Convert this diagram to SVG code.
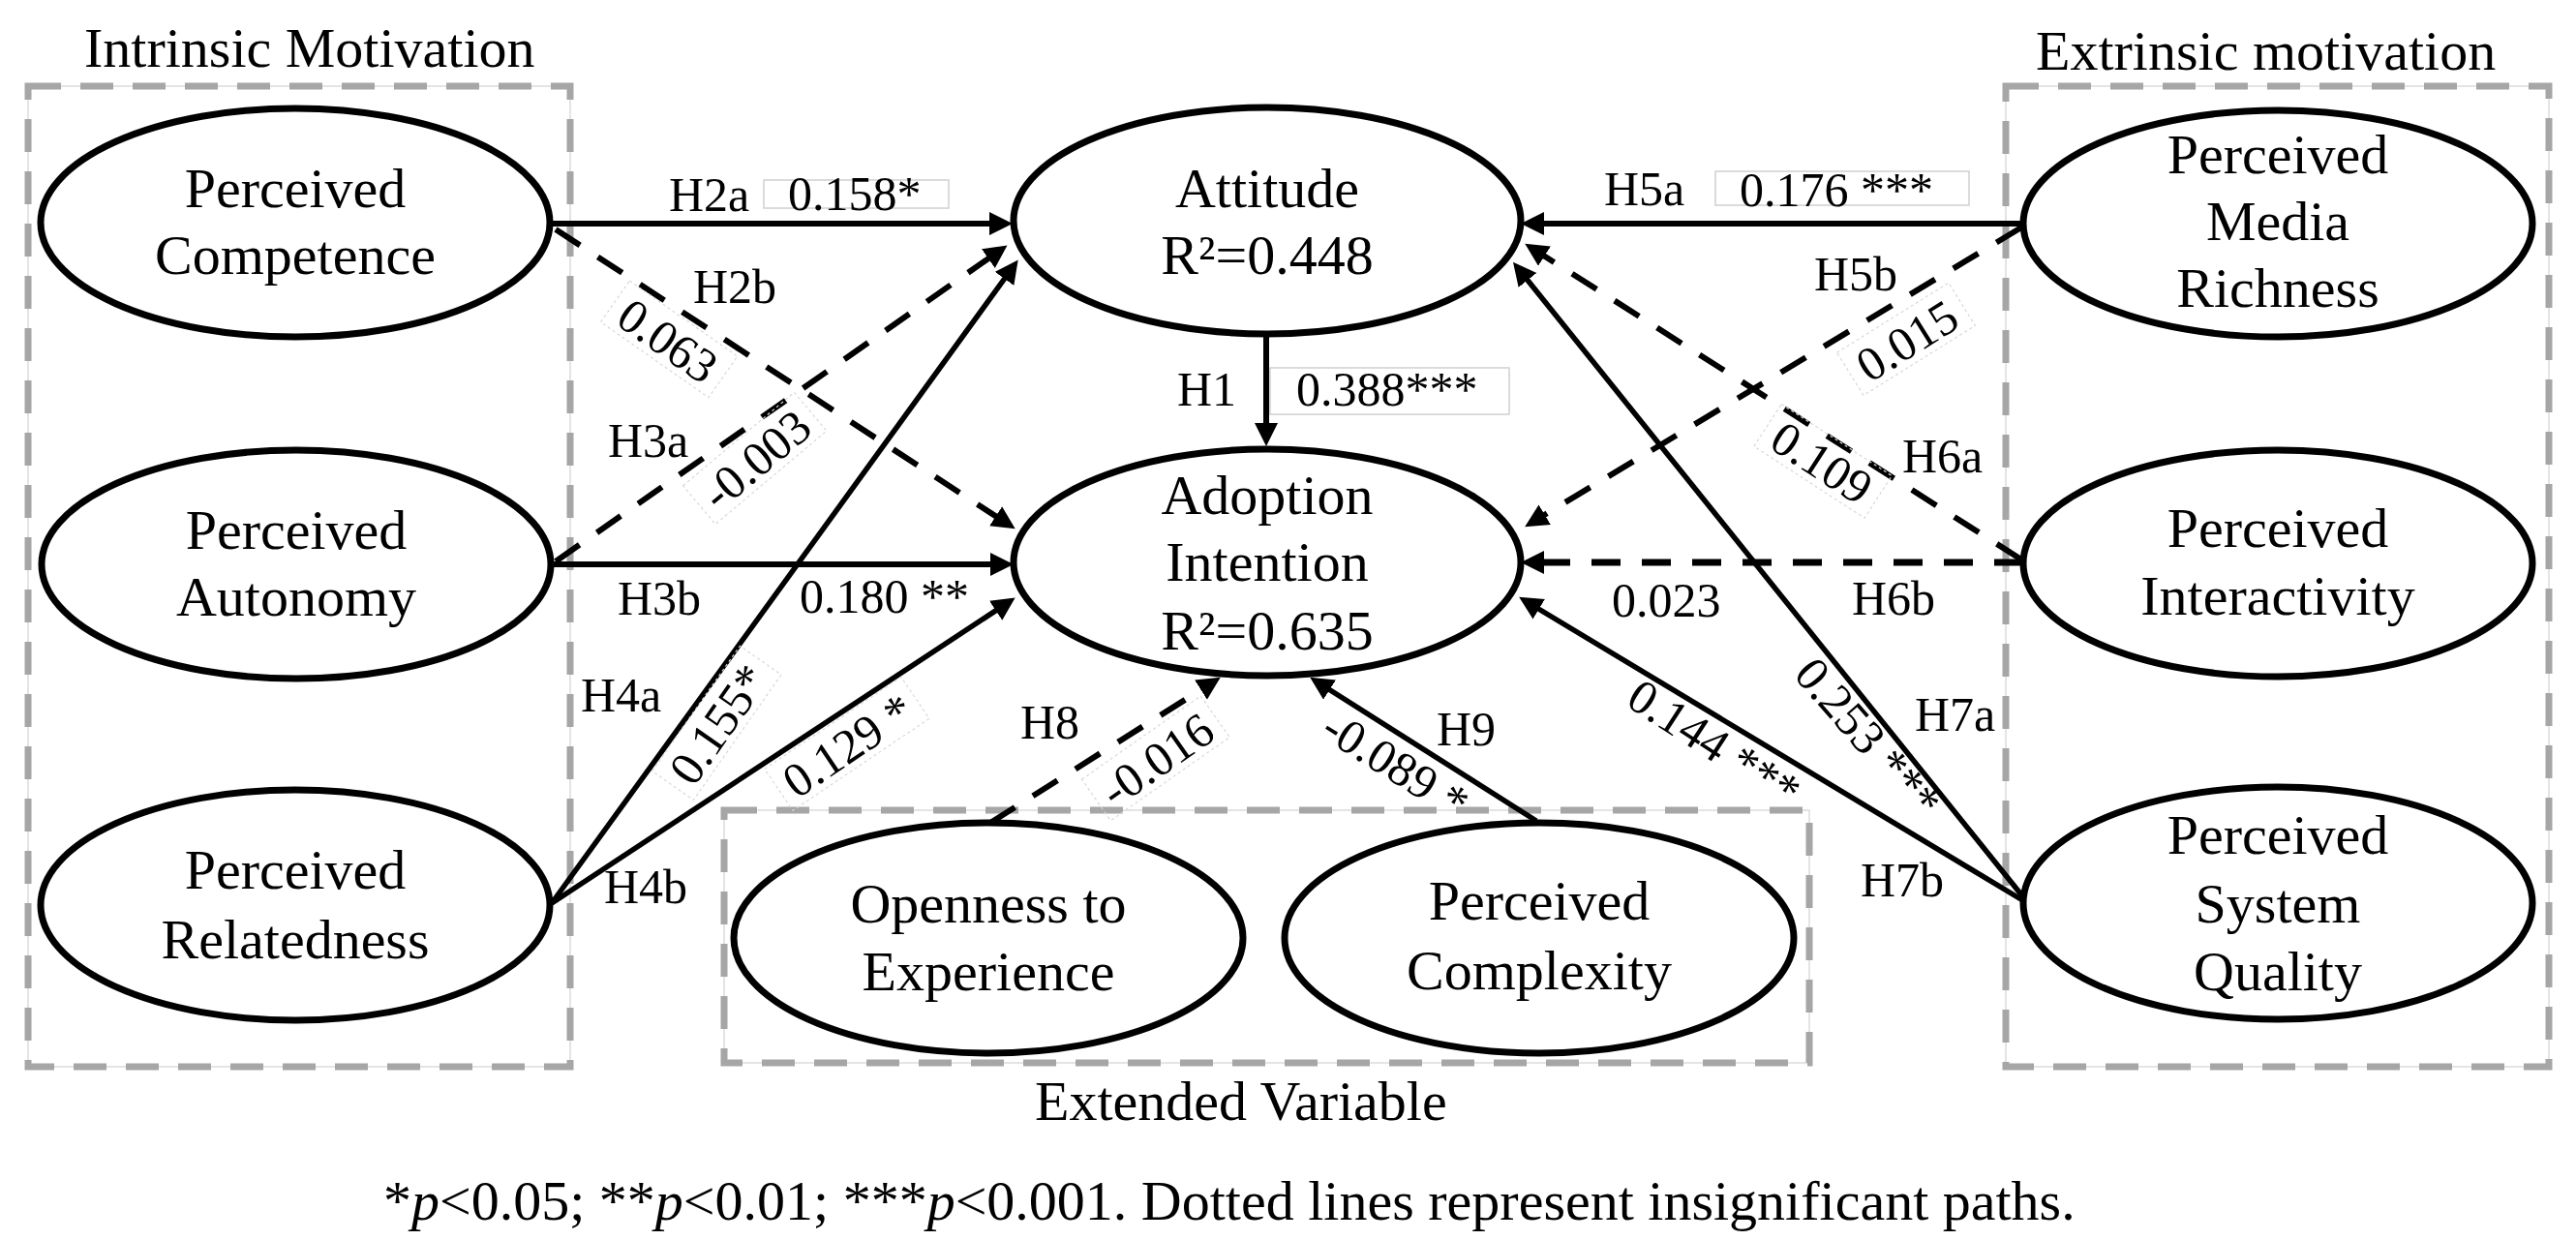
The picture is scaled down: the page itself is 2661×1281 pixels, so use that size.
<svg xmlns="http://www.w3.org/2000/svg" width="2661" height="1281" viewBox="0 0 2661 1281">
<style>
text{font-family:"Liberation Serif","Times New Roman",serif;fill:#000}
.nt{font-size:58px;text-anchor:middle}
.tt{font-size:58px}
.lb{font-size:50px}
.lc{font-size:50px;text-anchor:middle}
.node ellipse{fill:#fff;stroke:#000;stroke-width:7}
.grp{fill:none;stroke:#a6a6a6;stroke-width:7;stroke-dasharray:34 20}
.thin{fill:none;stroke:#dcdcdc;stroke-width:1.5}
.edge{stroke:#000;stroke-width:5.5;fill:none}
.hv{stroke-width:6}
.dash{stroke-dasharray:30 22;stroke-width:6}
.dash.hv{stroke-width:7}
.lbox{fill:#fff;stroke:#d0d0d0;stroke-width:1.5}
.rbox{fill:none;stroke:#d8d8d8;stroke-width:1.2;stroke-dasharray:3 3}
</style>
<defs>
<marker id="ah" markerUnits="userSpaceOnUse" markerWidth="26" markerHeight="26" refX="16" refY="12" orient="auto">
<path d="M0,0 L24,12 L0,24 z" fill="#000"/>
</marker>
</defs>
<rect width="2661" height="1281" fill="#fff"/>

<g id="groups">
<rect class="thin" x="29" y="89" width="560" height="1013"/>
<rect class="grp" x="29" y="89" width="560" height="1013"/>
<rect class="thin" x="748" y="837" width="1121" height="261"/>
<rect class="grp" x="748" y="837" width="1121" height="261"/>
<rect class="thin" x="2072" y="89" width="561" height="1013"/>
<rect class="grp" x="2072" y="89" width="561" height="1013"/>
<text class="tt" x="87" y="69">Intrinsic Motivation</text>
<text class="tt" x="2103" y="72">Extrinsic motivation</text>
<text class="tt" x="1069" y="1157">Extended Variable</text>
</g>

<g id="connectors">
<line class="edge hv" x1="569" y1="231" x2="1038" y2="231" marker-end="url(#ah)"/>
<line class="edge dash" x1="574" y1="237" x2="1042" y2="542" marker-end="url(#ah)"/>
<line class="edge dash" x1="574" y1="580" x2="1034" y2="258" marker-end="url(#ah)"/>
<line class="edge hv" x1="569" y1="583" x2="1039" y2="583" marker-end="url(#ah)"/>
<line class="edge" x1="570" y1="933" x2="1047" y2="275" marker-end="url(#ah)"/>
<line class="edge" x1="570" y1="933" x2="1042" y2="622" marker-end="url(#ah)"/>
<line class="edge hv" x1="1308" y1="347" x2="1308" y2="453" marker-end="url(#ah)"/>
<line class="edge hv" x1="2090" y1="231" x2="1579" y2="231" marker-end="url(#ah)"/>
<line class="edge dash" x1="2088" y1="235" x2="1582" y2="540" marker-end="url(#ah)"/>
<line class="edge dash" x1="2088" y1="578" x2="1582" y2="256" marker-end="url(#ah)"/>
<line class="edge dash hv" x1="2090" y1="581" x2="1579" y2="581" marker-end="url(#ah)"/>
<line class="edge" x1="2091" y1="928" x2="1568" y2="277" marker-end="url(#ah)"/>
<line class="edge" x1="2091" y1="931" x2="1576" y2="621" marker-end="url(#ah)"/>
<line class="edge dash" x1="1023" y1="850" x2="1254" y2="704" marker-end="url(#ah)"/>
<line class="edge" x1="1587" y1="848" x2="1360" y2="704" marker-end="url(#ah)"/>
</g>

<g id="labels">
<text class="lb" x="691" y="218">H2a</text>
<rect class="lbox" x="789" y="186" width="191" height="29"/>
<text class="lb" x="814" y="217">0.158*</text>
<text class="lb" x="716" y="313">H2b</text>
<g transform="translate(690,352) rotate(35)"><rect class="rbox" x="-68" y="-28" width="136" height="52"/><text class="lc" y="17">0.063</text></g>
<text class="lb" x="628" y="472">H3a</text>
<g transform="translate(781,475) rotate(-40)"><rect class="rbox" x="-75" y="-28" width="150" height="52"/><text class="lc" y="17">-0.003</text></g>
<text class="lb" x="638" y="635">H3b</text>
<text class="lb" x="826" y="633">0.180 **</text>
<text class="lb" x="600" y="735">H4a</text>
<g transform="translate(742,748) rotate(-55)"><rect class="rbox" x="-79" y="-28" width="158" height="52"/><text class="lc" y="17">0.155*</text></g>
<g transform="translate(876,770) rotate(-34)"><rect class="rbox" x="-85" y="-28" width="170" height="52"/><text class="lc" y="17">0.129 *</text></g>
<text class="lb" x="624" y="933">H4b</text>
<text class="lb" x="1216" y="419">H1</text>
<rect class="lbox" x="1312" y="380" width="247" height="48"/>
<text class="lb" x="1339" y="419">0.388***</text>
<text class="lb" x="1657" y="212">H5a</text>
<rect class="lbox" x="1772" y="177" width="262" height="35"/>
<text class="lb" x="1797" y="213">0.176 ***</text>
<text class="lb" x="1874" y="300">H5b</text>
<g transform="translate(1970,352) rotate(-32)"><rect class="rbox" x="-68" y="-28" width="136" height="52"/><text class="lc" y="17">0.015</text></g>
<g transform="translate(1882,478) rotate(33)"><rect class="rbox" x="-68" y="-28" width="136" height="52"/><text class="lc" y="17">0.109</text></g>
<text class="lb" x="1965" y="488">H6a</text>
<text class="lb" x="1665" y="637">0.023</text>
<text class="lb" x="1913" y="635">H6b</text>
<text class="lb" x="1978" y="755">H7a</text>
<g transform="translate(1930,762) rotate(49)"><text class="lc" y="17">0.253 ***</text></g>
<g transform="translate(1771,768) rotate(33)"><text class="lc" y="17">0.144 ***</text></g>
<text class="lb" x="1922" y="926">H7b</text>
<text class="lb" x="1054" y="763">H8</text>
<g transform="translate(1195,785) rotate(-35)"><rect class="rbox" x="-75" y="-28" width="150" height="52"/><text class="lc" y="17">-0.016</text></g>
<text class="lb" x="1484" y="770">H9</text>
<g transform="translate(1442,790) rotate(32)"><text class="lc" y="17">-0.089 *</text></g>
</g>

<g id="n-competence" class="node"><ellipse cx="305" cy="230" rx="263" ry="118"/><text class="nt" x="305" y="214">Perceived</text><text class="nt" x="305" y="283">Competence</text></g>
<g id="n-autonomy" class="node"><ellipse cx="306" cy="583" rx="263" ry="118"/><text class="nt" x="306" y="567">Perceived</text><text class="nt" x="306" y="636">Autonomy</text></g>
<g id="n-relatedness" class="node"><ellipse cx="305" cy="935" rx="263" ry="119"/><text class="nt" x="305" y="918">Perceived</text><text class="nt" x="305" y="990">Relatedness</text></g>
<g id="n-attitude" class="node"><ellipse cx="1309" cy="228" rx="262" ry="117"/><text class="nt" x="1309" y="214">Attitude</text><text class="nt" x="1309" y="283">R²=0.448</text></g>
<g id="n-adoption" class="node"><ellipse cx="1309" cy="581" rx="262" ry="117"/><text class="nt" x="1309" y="531">Adoption</text><text class="nt" x="1309" y="600">Intention</text><text class="nt" x="1309" y="671">R²=0.635</text></g>
<g id="n-media" class="node"><ellipse cx="2353" cy="231" rx="263" ry="117"/><text class="nt" x="2353" y="179">Perceived</text><text class="nt" x="2353" y="248">Media</text><text class="nt" x="2353" y="317">Richness</text></g>
<g id="n-interactivity" class="node"><ellipse cx="2353" cy="582" rx="263" ry="117"/><text class="nt" x="2353" y="565">Perceived</text><text class="nt" x="2353" y="635">Interactivity</text></g>
<g id="n-system" class="node"><ellipse cx="2353" cy="933" rx="263" ry="120"/><text class="nt" x="2353" y="882">Perceived</text><text class="nt" x="2353" y="953">System</text><text class="nt" x="2353" y="1023">Quality</text></g>
<g id="n-openness" class="node"><ellipse cx="1021" cy="969" rx="263" ry="119"/><text class="nt" x="1021" y="953">Openness to</text><text class="nt" x="1021" y="1023">Experience</text></g>
<g id="n-complexity" class="node"><ellipse cx="1590" cy="969" rx="263" ry="119"/><text class="nt" x="1590" y="950">Perceived</text><text class="nt" x="1590" y="1022">Complexity</text></g>

<text class="tt" x="396" y="1260">*<tspan font-style="italic">p</tspan>&lt;0.05; **<tspan font-style="italic">p</tspan>&lt;0.01; ***<tspan font-style="italic">p</tspan>&lt;0.001. Dotted lines represent insignificant paths.</text>
</svg>
